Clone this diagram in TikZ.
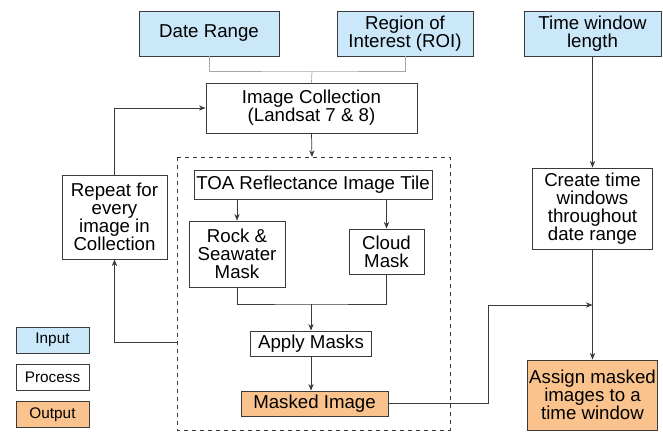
\documentclass[tikz,border=0pt]{standalone}
\usepackage{fontspec}
\setmainfont{Liberation Sans}
\usepackage{tikz}
\usetikzlibrary{positioning,arrows.meta,shapes}

\definecolor{inblue}{HTML}{CAE8FA}
\definecolor{outorange}{HTML}{FAC38E}
\definecolor{edgegray}{HTML}{3A3A3A}

\tikzset{
    box/.style={draw=edgegray, line width=0.6pt, fill=white, align=center,
        inner sep=1pt, font=\fontsize{14}{13.6}\selectfont},
    inbox/.style={box, fill=inblue},
    outbox/.style={box, fill=outorange},
    legbox/.style={font=\fontsize{11.5}{12.5}\selectfont},
    link/.style={draw=edgegray, line width=0.55pt},
    arr/.style={link, -{Stealth[length=5pt,width=4pt]}},
}

\begin{document}
\begin{tikzpicture}[x=0.75pt, y=-0.75pt]
        \useasboundingbox (0,0) rectangle (663,432);
        % inputs
        \node[inbox, minimum width=105pt, minimum height=33.75pt] (date) at (209,33.5) {Date Range};
        \node[inbox, minimum width=102pt, minimum height=33.75pt] (roi) at (405,33.5) {Region of\\Interest (ROI)};
        \node[inbox, minimum width=102.75pt, minimum height=33.75pt] (twl) at (592.5,33.5) {Time window\\length};
        % collection and repeat loop
        \node[box, minimum width=158.25pt, minimum height=37.5pt] (coll) at (311.5,108) {Image Collection\\(Landsat 7 \& 8)};
        \node[box, minimum width=78.75pt, minimum height=63pt] (repeat) at (114.5,217) {Repeat for\\every\\image in\\Collection};
        % per image steps
        \draw[link, dashed] (177,157) rectangle (450,430);
        \coordinate (dtop) at (312,157);
        \coordinate (dleft) at (177,342);
        \node[box, minimum width=178.5pt, minimum height=21.75pt] (toa) at (313,184.5) {TOA Reflectance Image Tile};
        \node[box, minimum width=72pt, minimum height=49.5pt] (rock) at (237,254) {Rock \&\\Seawater\\Mask};
        \node[box, minimum width=56.25pt, minimum height=33.75pt] (cloud) at (386.5,251.5) {Cloud\\Mask};
        \node[box, minimum width=90.75pt, minimum height=18.75pt] (apply) at (311,343.5) {Apply Masks};
        \node[outbox, minimum width=110.25pt, minimum height=18.75pt] (masked) at (314.5,403.5) {Masked Image};
        % time windows
        \node[box, minimum width=90pt, minimum height=60.75pt] (create) at (592.5,208.5) {Create time\\windows\\throughout\\date range};
        \node[outbox, minimum width=96pt, minimum height=52.5pt] (assign) at (592.5,395) {Assign masked\\images to a\\time window};
        \coordinate (join) at (592.5,305);
        % legend
        \foreach \name/\kind [count=\ii from 0] in {Input/inbox, Process/box, Output/outbox}{
            \node[\kind, legbox, minimum width=54.75pt, minimum height=19.5pt] (leg\ii) at (52.5,340+37.25*\ii) {\name};
        }

        % connectors
        \draw[link, draw=gray!70] (date.south) |- (312,71) -| (roi.south);
        \draw[link, draw=gray!70] (312,71) -- (coll.north);
        \draw[arr] (coll.south) -- (dtop);
        \draw[arr] (dleft) -| (repeat.south);
        \draw[arr] (repeat.north) |- (coll.west);
        \draw[arr] (rock.north |- toa.south) -- (rock.north);
        \draw[arr] (cloud.north |- toa.south) -- (cloud.north);
        \draw[link] (rock.south) |- (311,304) -| (cloud.south);
        \draw[arr] (311,304) -- (apply.north);
        \draw[arr] (apply.south) -- (apply.south |- masked.north);
        \draw[arr] (twl.south) -- (create.north);
        \draw[arr] (create.south) -- (assign.north);
        \draw[arr] (masked.east) -| (488,305) -- (join);
    \end{tikzpicture}
\end{document}
